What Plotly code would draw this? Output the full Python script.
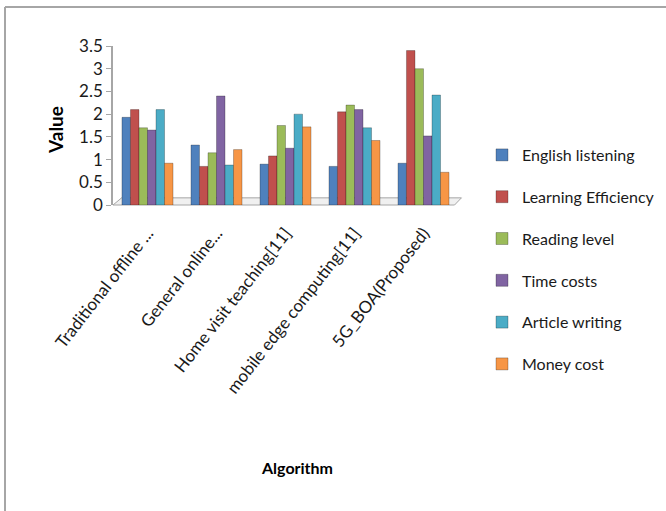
import plotly.graph_objects as go

# Categories (algorithms) and series values
algorithms = [
    "Traditional offline ...",
    "General online...",
    "Home visit teaching[11]",
    "mobile edge computing[11]",
    "5G_BOA(Proposed)",
]
english_listening = [1.93, 1.32, 0.90, 0.85, 0.92]
learning_efficiency = [2.10, 0.85, 1.08, 2.05, 3.40]
reading_level = [1.70, 1.15, 1.75, 2.20, 3.00]
time_costs = [1.65, 2.40, 1.25, 2.10, 1.52]
article_writing = [2.10, 0.88, 2.00, 1.70, 2.42]
money_cost = [0.92, 1.22, 1.72, 1.42, 0.72]

series_names = ["English listening", "Learning Efficiency", "Reading level",
                "Time costs", "Article writing", "Money cost"]
series_values = [english_listening, learning_efficiency, reading_level,
                 time_costs, article_writing, money_cost]
series_colors = ["#4F81BD", "#C0504D", "#9BBB59", "#8064A2", "#4BACC6", "#F79646"]

y_ticks = [0, 0.5, 1, 1.5, 2, 2.5, 3, 3.5]
y_tick_text = ["0", "0.5", "1", "1.5", "2", "2.5", "3", "3.5"]

FONT = "Lato"

fig = go.Figure()
for name, vals, col in zip(series_names, series_values, series_colors):
    fig.add_trace(go.Bar(
        x=algorithms, y=vals, name=name, legendgroup=name,
        marker=dict(color=col, line=dict(color="rgba(0,0,0,0.25)", width=1)),
    ))

W, H = 666, 511
ml, mr, mt, mb = 113, 208, 46, 306
PW, PH = W - ml - mr, H - mt - mb


def px_x(x):
    """Pixel x position to paper coordinate."""
    return (x - ml) / PW


def px_y(y):
    """Pixel y position (from top) to paper coordinate."""
    return (H - mb - y) / PH


shapes = [
    # Slanted floor under the bars
    dict(type="path", xref="paper", yref="paper",
         path="M 0,0 L 0.025,0.045 L 1.01,0.045 L 0.99,0 Z",
         fillcolor="rgba(240,240,240,1)",
         line=dict(color="#A6A6A6", width=1), layer="below"),
    # Outer frame: left and top edges
    dict(type="line", xref="paper", yref="paper",
         x0=px_x(5), x1=px_x(5), y0=px_y(H + 5), y1=px_y(7),
         line=dict(color="#A6A6A6", width=2)),
    dict(type="line", xref="paper", yref="paper",
         x0=px_x(5), x1=px_x(W + 5), y0=px_y(7), y1=px_y(7),
         line=dict(color="#A6A6A6", width=2)),
]

annotations = [
    dict(text="<b>Value</b>", xref="paper", yref="paper",
         x=px_x(55), y=px_y(130), xanchor="center", yanchor="middle",
         textangle=-90, showarrow=False,
         font=dict(family=FONT, size=19, color="#000000")),
    dict(text="<b>Algorithm</b>", xref="paper", yref="paper",
         x=px_x(297), y=px_y(467), xanchor="center", yanchor="middle",
         showarrow=False,
         font=dict(family=FONT, size=16, color="#000000")),
]

fig.update_layout(
    width=W, height=H,
    margin=dict(l=ml, r=mr, t=mt, b=mb, autoexpand=False),
    paper_bgcolor="white", plot_bgcolor="rgba(0,0,0,0)",
    barmode="group", bargap=0.26, bargroupgap=0,
    font=dict(family=FONT, size=16, color="#1a1a1a"),
    showlegend=True,
    legend=dict(
        xref="container", yref="container",
        x=482 / W, y=1 - 138 / H,
        xanchor="left", yanchor="top",
        tracegroupgap=18, itemwidth=30, maxheight=1,
        font=dict(family=FONT, size=16, color="#1a1a1a"),
        bgcolor="rgba(0,0,0,0)",
    ),
    xaxis=dict(
        tickangle=-52, showgrid=False, showline=False, ticks="",
        automargin=False, ticklabelstandoff=14,
        tickfont=dict(family=FONT, size=17, color="#1a1a1a"),
    ),
    yaxis=dict(
        range=[0, 3.5], tickvals=y_ticks, ticktext=y_tick_text,
        automargin=False,
        showgrid=False, showline=True, linecolor="#A6A6A6", linewidth=1.5,
        ticks="outside", ticklen=5, tickcolor="#A6A6A6",
        tickfont=dict(family=FONT, size=17, color="#1a1a1a"),
        zeroline=False,
    ),
    shapes=shapes,
    annotations=annotations,
)

fig.write_html("out.html")
